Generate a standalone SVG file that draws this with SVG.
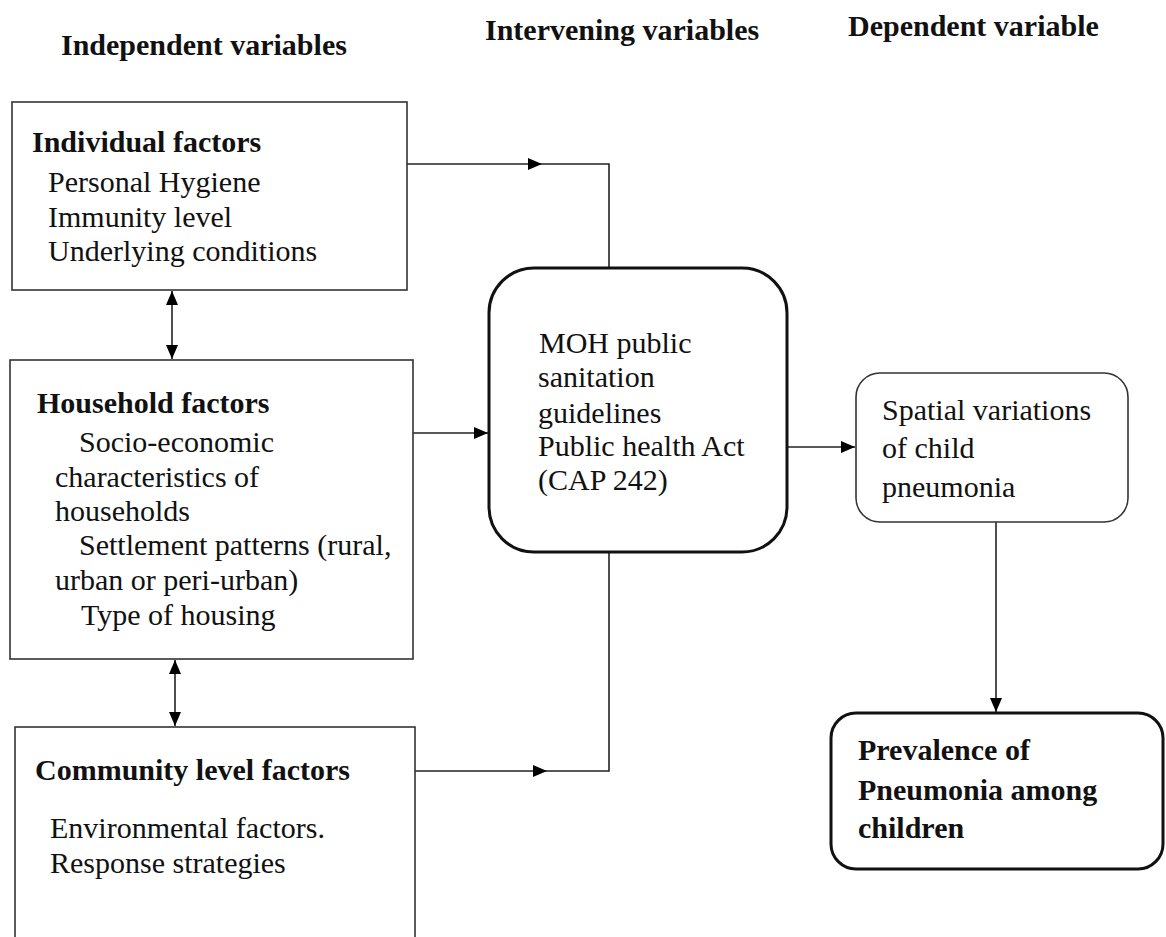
<svg xmlns="http://www.w3.org/2000/svg" width="1166" height="937" viewBox="0 0 1166 937">
<defs>
<marker id="ah" viewBox="0 0 14 12" refX="14" refY="6" markerWidth="14" markerHeight="12" markerUnits="userSpaceOnUse" orient="auto-start-reverse">
<path d="M0,0 L14,6 L0,12 z" fill="#000"/>
</marker>
<style>
text{font-family:"Liberation Serif","Times New Roman",serif;font-size:30px;fill:#111}
.b{font-weight:bold}
.box{fill:#fff;stroke:#333;stroke-width:1.6}
.thick{fill:#fff;stroke:#111;stroke-width:3}
.con{fill:none;stroke:#222;stroke-width:1.6}
</style>
</defs>
<rect width="1166" height="937" fill="#fff"/>
<g id="headers">
<text class="b" x="61" y="55">Independent variables</text>
<text class="b" x="485" y="40">Intervening variables</text>
<text class="b" x="848" y="36">Dependent variable</text>
</g>
<g id="connectors">
<path class="con" d="M407,164 H542" marker-end="url(#ah)"/>
<path class="con" d="M542,164 H609 V268"/>
<path class="con" d="M172,291 V359" marker-start="url(#ah)" marker-end="url(#ah)"/>
<path class="con" d="M413,433 H488" marker-end="url(#ah)"/>
<path class="con" d="M175,660 V726" marker-start="url(#ah)" marker-end="url(#ah)"/>
<path class="con" d="M415,771 H547" marker-end="url(#ah)"/>
<path class="con" d="M547,771 H609 V552"/>
<path class="con" d="M787,447 H855" marker-end="url(#ah)"/>
<path class="con" d="M996,522 V712" marker-end="url(#ah)"/>
</g>
<g id="individual">
<rect class="box" x="12" y="102" width="395" height="188"/>
<text class="b" x="32" y="152">Individual factors</text>
<text x="48" y="192">Personal Hygiene</text>
<text x="48" y="227">Immunity level</text>
<text x="48" y="261">Underlying conditions</text>
</g>
<g id="household">
<rect class="box" x="10" y="360" width="403" height="299"/>
<text class="b" x="37" y="413">Household factors</text>
<text x="79" y="452">Socio-economic</text>
<text x="55" y="487">characteristics of</text>
<text x="55" y="521">households</text>
<text x="79" y="555">Settlement patterns (rural,</text>
<text x="55" y="590">urban or peri-urban)</text>
<text x="81" y="625">Type of housing</text>
</g>
<g id="community">
<rect class="box" x="15" y="727" width="400" height="240"/>
<text class="b" x="35" y="780">Community level factors</text>
<text x="50" y="838">Environmental factors.</text>
<text x="50" y="873">Response strategies</text>
</g>
<g id="moh">
<rect class="thick" x="489" y="268" width="298" height="284" rx="45" ry="45"/>
<text x="539" y="353">MOH public</text>
<text x="538" y="387">sanitation</text>
<text x="538" y="423">guidelines</text>
<text x="538" y="456">Public health Act</text>
<text x="538" y="490">(CAP 242)</text>
</g>
<g id="spatial">
<rect class="box" x="856" y="373" width="272" height="149" rx="24" ry="24"/>
<text x="882" y="420">Spatial variations</text>
<text x="882" y="458">of child</text>
<text x="882" y="497">pneumonia</text>
</g>
<g id="prevalence">
<rect class="thick" x="831" y="713" width="332" height="156" rx="25" ry="25"/>
<text class="b" x="858" y="760">Prevalence of</text>
<text class="b" x="858" y="800">Pneumonia among</text>
<text class="b" x="858" y="838">children</text>
</g>
</svg>
